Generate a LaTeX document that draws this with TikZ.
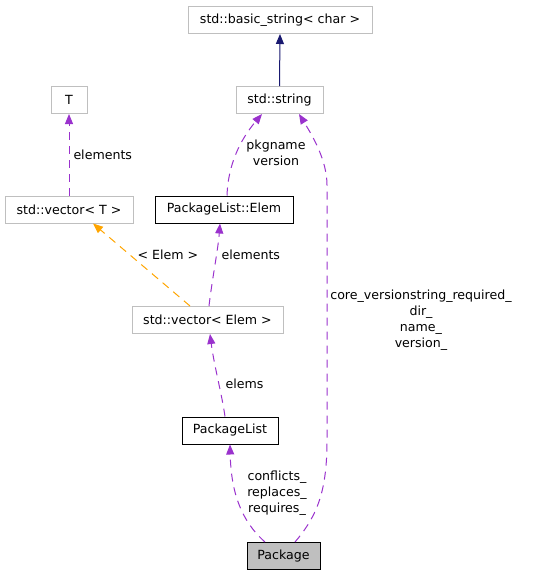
\documentclass[tikz,border=0pt]{standalone}
\usepackage{fontspec}
\setmainfont{DejaVu Sans}
\usetikzlibrary{arrows.meta}
\definecolor{edgepurple}{HTML}{9A32CD}
\definecolor{edgeorange}{HTML}{FFA500}
\definecolor{edgenavy}{HTML}{191970}
\definecolor{boxgray}{HTML}{BFBFBF}

\tikzset{
  cls/.style={draw=black, rectangle, inner sep=0pt, minimum height=27pt, font=\fontsize{12.6}{16}\selectfont},
  extcls/.style={cls, draw=boxgray},
  usage/.style={edgepurple, dash pattern=on 8pt off 6pt, -{Triangle[length=10pt,width=8pt]}},
  tmpl/.style={edgeorange, dash pattern=on 8pt off 6pt, -{Triangle[length=10pt,width=8pt]}},
  inherit/.style={edgenavy, -{Triangle[length=10pt,width=8pt]}},
  lbl/.style={inner sep=0pt, align=center, font=\fontsize{12.6}{16}\selectfont}
}

\begin{document}
\begin{tikzpicture}[x=1pt, y=-1pt, line width=1pt]
\useasboundingbox (0,0) rectangle (549,576);
\node[extcls, minimum width=184pt] (bstr) at (280,20) {std::basic\_string< char >};
\node[extcls, minimum width=87pt] (str) at (279.5,100) {std::string};
\node[extcls, minimum width=36pt] (T) at (69,100) {T};
\node[extcls, minimum width=128pt] (vecT) at (69,209.5) {std::vector< T >};
\node[cls, minimum width=138pt] (elem) at (224,209.5) {PackageList::Elem};
\node[extcls, minimum width=151pt] (vecelem) at (207.5,320) {std::vector< Elem >};
\node[cls, minimum width=96pt] (plist) at (230,430.5) {PackageList};
\node[cls, fill=boxgray, minimum width=73pt] (pkg) at (283.5,556) {Package};

\draw[inherit] (str.north) -- (bstr.south);
\draw[usage] (vecT.north) -- (T.south);
\node[lbl, anchor=west] (lblT) at (73,155) {elements};
\draw[tmpl] (vecelem.north -| 190,0) -- (vecT.south -| 93,0);
\node[lbl] (lblvec) at (168,255) {< Elem >};
\draw[usage] (vecelem.north -| 209,0) .. controls (212,280) and (218,250) .. (elem.south -| 220,0);
\node[lbl, anchor=west] (lblelem) at (221,255) {elements};
\draw[usage] (elem.north -| 227,0) .. controls (228,165) and (240,140) .. (str.south -| 262,0);
\node[lbl] (lblstr) at (276,153) {pkgname\\version};
\draw[usage] (pkg.north -| 295,0) .. controls (318,515) and (327,490) .. (327,440)
  -- (327,185) .. controls (327,160) and (312,135) .. (str.south -| 299,0);
\node[lbl] (lblpkg) at (421,320) {core\_versionstring\_required\_\\dir\_\\name\_\\version\_};
\draw[usage] (plist.north -| 225,0) .. controls (222,395) and (214,365) .. (vecelem.south -| 210,0);
\node[lbl, anchor=west] (lblplist) at (225,384) {elems};
\draw[usage] (pkg.north -| 265,0) .. controls (240,520) and (231,490) .. (plist.south -| 230,0);
\node[lbl] (lblreq) at (277,493) {conflicts\_\\replaces\_\\requires\_};
\end{tikzpicture}
\end{document}
